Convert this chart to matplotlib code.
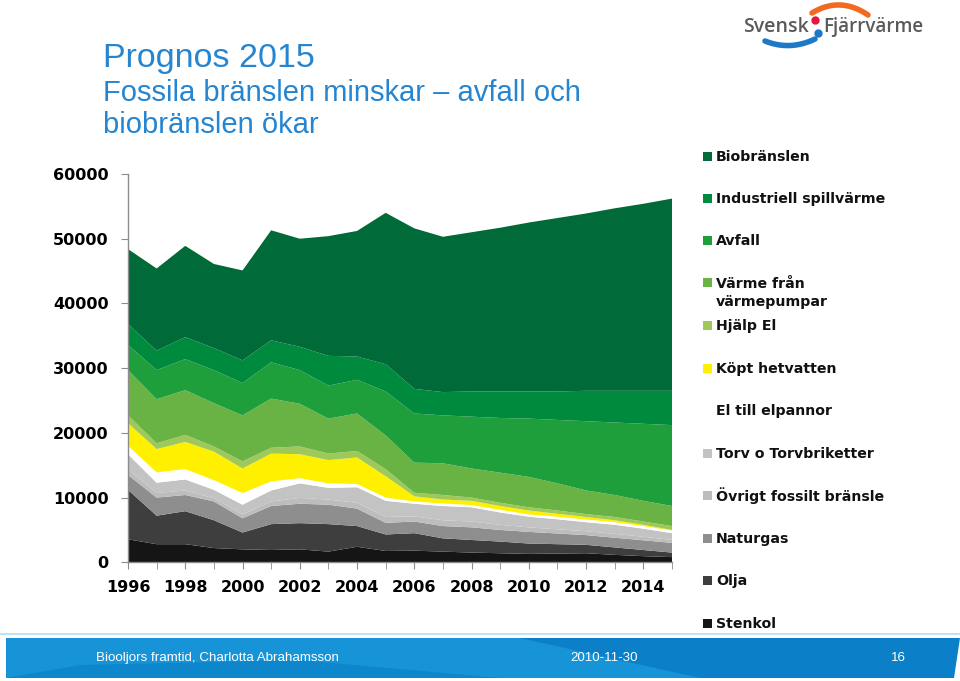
import matplotlib.pyplot as plt
from matplotlib.patches import Rectangle, Polygon
import numpy as np

# Data (GWh)
years = list(range(1996, 2016))

stenkol = [3550, 2800, 2800, 2200, 2000, 1900, 2000, 1650, 2400, 1750,
           1800, 1650, 1500, 1400, 1300, 1350, 1400, 1150, 950, 800]
olja = [7650, 4400, 5100, 4300, 2600, 4000, 4050, 4250, 3200, 2550,
        2700, 2050, 1950, 1800, 1600, 1450, 1300, 1150, 950, 700]
naturgas = [2300, 2800, 2500, 2900, 2200, 2800, 3000, 3000, 2700, 1800,
            1800, 1900, 1950, 1800, 1800, 1650, 1500, 1500, 1500, 1500]
ovrigt_fossilt = [900, 700, 700, 500, 600, 700, 900, 800, 900, 900,
                  800, 900, 900, 800, 700, 650, 600, 600, 550, 450]
torv = [2300, 1600, 1700, 1300, 1500, 1700, 2250, 1800, 2400, 2500,
        1950, 2200, 2200, 1900, 1650, 1550, 1400, 1400, 1250, 1050]
el_elpannor = [1300, 1600, 1600, 1500, 1800, 1400, 800, 700, 500, 500,
               350, 400, 350, 400, 350, 400, 400, 400, 400, 400]
kopt_hetvatten = [3500, 3600, 4200, 4400, 3800, 4300, 3700, 3600, 4100, 3300,
                  800, 600, 650, 600, 600, 450, 400, 300, 200, 100]
hjalp_el = [1200, 900, 1100, 800, 1100, 900, 1200, 1000, 1000, 1100,
            550, 700, 500, 500, 500, 500, 450, 500, 500, 600]
varmepumpar = [7000, 6800, 6900, 6700, 7100, 7600, 6600, 5400, 5800, 5200,
               4650, 4900, 4500, 4650, 4700, 4200, 3650, 3400, 3200, 3100]
avfall = [3900, 4500, 4800, 5100, 5000, 5600, 5200, 5100, 5200, 6800,
          7600, 7400, 8000, 8450, 9000, 9800, 10700, 11200, 11900, 12500]
industriell = [3200, 3000, 3400, 3400, 3500, 3400, 3600, 4600, 3600, 4200,
               3800, 3600, 3900, 4100, 4200, 4400, 4700, 4900, 5100, 5300]
biobranslen = [11600, 12700, 14100, 13000, 13900, 17000, 16700, 18500, 19400, 23400,
               24800, 24000, 24600, 25300, 26100, 26800, 27400, 28200, 28900, 29700]

# bottom -> top
series = [stenkol, olja, naturgas, ovrigt_fossilt, torv, el_elpannor,
          kopt_hetvatten, hjalp_el, varmepumpar, avfall, industriell, biobranslen]
labels = ['Stenkol', 'Olja', 'Naturgas', 'Övrigt fossilt bränsle',
          'Torv o Torvbriketter', 'El till elpannor', 'Köpt hetvatten',
          'Hjälp El', 'Värme från\nvärmepumpar', 'Avfall',
          'Industriell spillvärme', 'Biobränslen']
colors = ['#151515', '#3e3e3e', '#8e8e8e', '#bdbdbd', '#c3c3c3', '#ffffff',
          '#fff000', '#9fc85a', '#69b345', '#1f9e3c', '#008a3d', '#006a38']

yticks = [0, 10000, 20000, 30000, 40000, 50000, 60000]
xticklabels = [str(y) for y in range(1996, 2016, 2)]

W, H = 960, 681
fig = plt.figure(figsize=(9.6, 6.81), dpi=100)

# overlay in pixel coordinates for title, legend, footer, logo
ov = fig.add_axes([0, 0, 1, 1])
ov.set_xlim(0, W)
ov.set_ylim(H, 0)
ov.axis('off')

# title
title_col = '#2585d0'
ov.text(103, 58, 'Prognos 2015', color=title_col, fontsize=24.5,
        family='Liberation Sans', va='center', ha='left')
ov.text(103, 93, 'Fossila bränslen minskar – avfall och', color=title_col,
        fontsize=21, family='Liberation Sans', va='center', ha='left')
ov.text(103, 125, 'biobränslen ökar', color=title_col,
        fontsize=21, family='Liberation Sans', va='center', ha='left')

# legend (top -> bottom)
leg_y = [157, 199, 241, 283, 326, 369, 411, 454, 496, 539, 581, 624]
for lab, col, yy in zip(labels[::-1], colors[::-1], leg_y):
    ov.add_patch(Rectangle((703, yy - 5), 9, 9, facecolor=col, edgecolor='none'))
    ov.text(716, yy - (0 if '\n' not in lab else -10), lab, fontsize=10.2,
            fontweight='bold', va='center', ha='left', linespacing=1.45,
            color='#111111')

# footer bar
ov.add_patch(Rectangle((0, 633), W, 2, facecolor='#bfe3f5', edgecolor='none'))
ov.add_patch(Rectangle((6, 638), W - 12, 40, facecolor='#1794d8', edgecolor='none'))
ov.add_patch(Polygon([(520, 638), (960, 638), (954, 678), (700, 678)],
                     closed=True, facecolor='#0b7fc8', edgecolor='none'))
ov.add_patch(Polygon([(6, 678), (80, 665), (300, 660), (500, 678)],
                     closed=True, facecolor='#0e86cc', edgecolor='none'))
ov.text(96, 658, 'Biooljors framtid, Charlotta Abrahamsson', color='white',
        fontsize=9.6, family='Liberation Sans', va='center', ha='left')
ov.text(604, 658, '2010-11-30', color='white', fontsize=9.6,
        family='Liberation Sans', va='center', ha='center')
ov.text(898, 658, '16', color='white', fontsize=9.6,
        family='Liberation Sans', va='center', ha='center')

# logo
t = np.linspace(0, 1, 50)
ov.plot(812 + 56 * t, 13 - 36 * t * (1 - t) + 2 * t, color='#f26a21', lw=4,
        solid_capstyle='round')
ov.plot(765 + 50 * t, 41 + 22 * t * (1 - t) - 2 * t, color='#1e78c8', lw=4,
        solid_capstyle='round')
ov.plot([815], [20], 'o', color='#e2183d', ms=5)
ov.plot([818], [33], 'o', color='#1e78c8', ms=5)
ov.text(743, 27, 'Svensk', color='#5a5a5a', fontsize=14, family='Open Sans',
        fontweight='semibold', va='center', ha='left')
ov.text(823, 27, 'Fjärrvärme', color='#5a5a5a', fontsize=13.5, family='Open Sans',
        fontweight='semibold', va='center', ha='left')

# chart
ax = fig.add_axes([128 / W, (H - 562.3) / H, 544 / W, (562.3 - 174) / H])
ax.patch.set_alpha(0)
ax.stackplot(years, *series, colors=colors, linewidth=0)
ax.set_xlim(1996, 2015)
ax.set_ylim(0, 60000)
for s in ['top', 'right']:
    ax.spines[s].set_visible(False)
for s in ['left', 'bottom']:
    ax.spines[s].set_color('#8c8c8c')
    ax.spines[s].set_linewidth(1)
ax.set_yticks(yticks)
ax.set_yticklabels([str(v) for v in yticks], fontsize=11.5, fontweight='bold')
ax.set_xticks(years, minor=True)
ax.set_xticks(list(range(1996, 2016, 2)))
ax.set_xticklabels(xticklabels, fontsize=11.5, fontweight='bold')
ax.tick_params(axis='y', length=5, pad=9, color='#8c8c8c')
ax.tick_params(axis='x', which='both', length=5, pad=8, color='#8c8c8c')

fig.savefig('out.png', dpi=100)
